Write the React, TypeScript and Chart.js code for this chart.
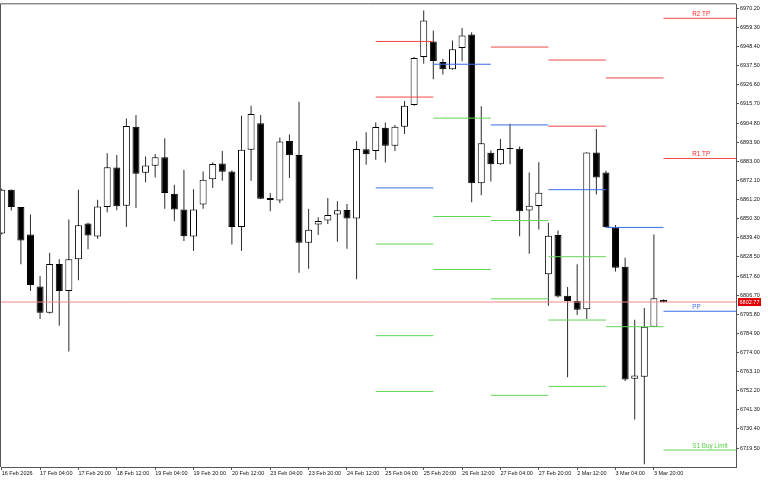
import React, { useEffect, useRef } from 'react';
import { Chart, registerables } from 'chart.js';

Chart.register(...registerables);

// ---- candle data (4H bars, index 0 = 16 Feb 12:00) ----
const opens = [
  6841.8, 6866.8, 6856.9, 6841.3, 6811.6, 6796.6, 6824.4, 6809.1, 6827.1, 6847.5,
  6840.1, 6856.9, 6879.4, 6857.7, 6902.7, 6876.4, 6880.4, 6885.3, 6864.5, 6855.5,
  6840.1, 6858.3, 6872.8, 6881.7, 6877.2, 6845.6, 6889.5, 6904.6, 6862.0, 6860.6,
  6894.6, 6886.6, 6836.5, 6847.0, 6849.2, 6852.6, 6855.2, 6850.4, 6889.8, 6888.9,
  6902.1, 6891.8, 6902.7, 6915.0, 6942.4, 6951.3, 6939.6, 6935.4, 6947.5, 6955.3,
  6870.5, 6887.8, 6881.3, 6890.0, 6890.2, 6854.9, 6857.5, 6818.6, 6840.9, 6806.3,
  6803.4, 6798.7, 6888.0, 6876.6, 6845.4, 6822.9, 6759.0, 6760.2, 6788.7, 6804.0,
];
const highs = [
  6867.5, 6866.9, 6857.0, 6852.6, 6817.6, 6830.8, 6827.1, 6849.8, 6866.8, 6847.9,
  6861.1, 6887.6, 6886.6, 6907.4, 6909.3, 6885.7, 6887.2, 6896.1, 6869.6, 6878.1,
  6867.1, 6877.2, 6882.4, 6888.9, 6877.7, 6908.9, 6914.6, 6909.3, 6864.9, 6896.6,
  6898.3, 6916.9, 6856.0, 6851.1, 6862.0, 6860.2, 6858.6, 6894.6, 6899.5, 6905.1,
  6905.1, 6903.7, 6917.3, 6942.4, 6968.9, 6957.5, 6941.4, 6951.9, 6958.9, 6956.6,
  6914.4, 6889.1, 6895.7, 6904.4, 6891.4, 6876.6, 6882.4, 6847.9, 6843.6, 6811.4,
  6824.3, 6888.1, 6901.4, 6877.6, 6846.6, 6828.0, 6792.7, 6799.3, 6841.3, 6804.2,
];
const lows = [
  6841.3, 6854.9, 6824.3, 6809.1, 6793.1, 6796.2, 6789.3, 6774.5, 6815.2, 6832.8,
  6838.8, 6853.9, 6855.1, 6845.6, 6856.4, 6871.1, 6873.8, 6856.0, 6848.8, 6837.5,
  6831.8, 6856.0, 6867.7, 6871.9, 6835.6, 6831.8, 6871.9, 6861.5, 6854.5, 6859.2,
  6873.4, 6819.5, 6821.8, 6840.9, 6847.3, 6837.1, 6833.1, 6815.8, 6881.0, 6883.8,
  6882.3, 6888.9, 6898.6, 6914.6, 6938.6, 6929.8, 6932.4, 6935.2, 6940.0, 6859.6,
  6863.6, 6871.5, 6881.0, 6881.3, 6840.3, 6830.3, 6844.1, 6800.6, 6805.3, 6759.9,
  6795.3, 6793.1, 6864.0, 6845.2, 6820.1, 6757.7, 6735.8, 6710.3, 6788.5, 6802.5,
];
const closes = [
  6866.8, 6856.9, 6837.9, 6812.5, 6796.6, 6824.4, 6809.1, 6827.1, 6846.5, 6840.7,
  6857.2, 6879.6, 6857.3, 6903.1, 6875.9, 6880.6, 6885.3, 6864.9, 6855.5, 6840.3,
  6855.5, 6872.5, 6881.5, 6877.0, 6845.6, 6889.5, 6909.9, 6861.7, 6860.9, 6894.2,
  6886.4, 6836.5, 6843.9, 6849.0, 6852.4, 6855.1, 6850.4, 6890.0, 6887.0, 6902.5,
  6891.9, 6902.7, 6914.6, 6941.8, 6963.2, 6940.1, 6935.4, 6946.9, 6954.7, 6870.5,
  6893.2, 6881.3, 6890.0, 6890.1, 6854.5, 6857.7, 6865.1, 6840.5, 6805.9, 6803.4,
  6798.3, 6888.0, 6873.8, 6845.4, 6822.3, 6758.6, 6760.9, 6788.7, 6804.9, 6802.77,
];

// ---- axis labels ----
const xTickLabels = [
  '16 Feb 2026', '17 Feb 04:00', '17 Feb 20:00', '18 Feb 12:00', '19 Feb 04:00',
  '19 Feb 20:00', '20 Feb 12:00', '23 Feb 04:00', '23 Feb 20:00', '24 Feb 12:00',
  '25 Feb 04:00', '25 Feb 20:00', '26 Feb 12:00', '27 Feb 04:00', '27 Feb 20:00',
  '2 Mar 12:00', '3 Mar 04:00', '3 Mar 20:00',
];
const barsPerLabel = 4;
const yTickValues = [
  6719.5, 6730.4, 6741.3, 6752.2, 6763.1, 6774.0, 6784.9, 6795.8, 6806.7, 6817.6,
  6828.5, 6839.4, 6850.3, 6861.2, 6872.1, 6883.0, 6893.9, 6904.8, 6915.7, 6926.6,
  6937.5, 6948.4, 6959.3, 6970.2,
];

// ---- daily pivot levels (segment from day's first bar to next day's first bar) ----
const levelStart = [39, 45, 51, 57, 63, 69];
const levelEnd = [45, 51, 57, 63, 69, 78];
const resistanceLevels = [
  [6951.3, 6919.6],
  [],
  [6948.1],
  [6940.7, 6903.0],
  [6930.5],
  [6964.5, 6884.6],
];
const pivotLevels = [6867.8, 6938.3, 6903.7, 6866.8, 6845.3, 6797.5];
const supportLevels = [
  [6835.8, 6783.6, 6751.8],
  [6907.6, 6851.5, 6821.3],
  [6849.2, 6804.6, 6749.6],
  [6828.6, 6792.5, 6754.7],
  [6788.7],
  [6718.4],
];
const levelLabelTexts = ['R2 TP', 'R1 TP', 'PP', 'S1 Buy Limit'];
const levelLabelPrices = [
  resistanceLevels[5][0],
  resistanceLevels[5][1],
  pivotLevels[5],
  supportLevels[5][0],
];
const levelLabelColors = ['#ff2020', '#ff2020', '#3d6fe8', '#5ccf4a'];

const RED = '#f04848';
const BLUE = '#3a6ee6';
const GREEN = '#60d654';
const FONT = "'Liberation Sans', Arial, sans-serif";

export default function App() {
  const ref = useRef<HTMLCanvasElement | null>(null);

  useEffect(() => {
    if (!ref.current) return;
    const n = closes.length;
    const lastClose = closes[n - 1];

    const wickData = closes.map((_, i) => ({ x: i, y: [lows[i], highs[i]] }));
    const bodyData = closes.map((c, i) => ({ x: i, y: [opens[i], c] }));
    const bodyFill = closes.map((c, i) => (c >= opens[i] ? '#ffffff' : '#000000'));

    const levelDatasets: any[] = [];
    const addLevel = (day: number, price: number, color: string) => {
      levelDatasets.push({
        type: 'line',
        data: [
          { x: levelStart[day], y: price },
          { x: levelEnd[day], y: price },
        ],
        borderColor: color,
        borderWidth: 1,
        pointRadius: 0,
        fill: false,
        order: 0,
      });
    };
    levelStart.forEach((_, d) => {
      resistanceLevels[d].forEach((p) => addLevel(d, p, RED));
      addLevel(d, pivotLevels[d], BLUE);
      supportLevels[d].forEach((p) => addLevel(d, p, GREEN));
    });

    const overlay = {
      id: 'overlay',
      afterDatasetsDraw(chart: any) {
        const { ctx, chartArea, scales } = chart;
        const xs = scales.x;
        const ys = scales.y;
        ctx.save();
        // current price line
        const py = ys.getPixelForValue(lastClose);
        ctx.strokeStyle = '#f08585';
        ctx.lineWidth = 1;
        ctx.beginPath();
        ctx.moveTo(chartArea.left, py);
        ctx.lineTo(chartArea.right, py);
        ctx.stroke();
        // level labels
        ctx.font = `6.3px ${FONT}`;
        ctx.textAlign = 'left';
        ctx.textBaseline = 'bottom';
        const lx = xs.getPixelForValue(levelStart[5] + 3);
        levelLabelTexts.forEach((t, k) => {
          ctx.fillStyle = levelLabelColors[k];
          ctx.fillText(t, lx, ys.getPixelForValue(levelLabelPrices[k]) - 1);
        });
        ctx.restore();
      },
      afterDraw(chart: any) {
        const { ctx, chartArea, scales } = chart;
        const ys = scales.y;
        ctx.save();
        // frame left & top
        ctx.strokeStyle = '#555';
        ctx.lineWidth = 1;
        ctx.beginPath();
        ctx.moveTo(chartArea.left - 0.5, chartArea.bottom);
        ctx.lineTo(chartArea.left - 0.5, chartArea.top - 0.5);
        ctx.lineTo(chartArea.right, chartArea.top - 0.5);
        ctx.stroke();
        // price box on axis
        const py = ys.getPixelForValue(lastClose);
        const bx = chartArea.right + 2;
        ctx.fillStyle = '#e00000';
        ctx.fillRect(bx, py - 4, 23, 8);
        ctx.fillStyle = '#ffffff';
        ctx.font = `5.5px ${FONT}`;
        ctx.textAlign = 'center';
        ctx.textBaseline = 'middle';
        ctx.fillText(lastClose.toFixed(2), bx + 11.5, py + 0.3);
        ctx.restore();
      },
    };

    const chart = new Chart(ref.current, {
      type: 'bar',
      data: {
        datasets: [
          ...levelDatasets,
          {
            type: 'bar',
            data: bodyData as any,
            backgroundColor: bodyFill,
            borderColor: '#000000',
            borderWidth: 1,
            borderSkipped: false,
            barThickness: 7,
            minBarLength: 1,
            grouped: false,
            inflateAmount: 0,
            order: 1,
          } as any,
          {
            type: 'bar',
            data: wickData as any,
            backgroundColor: '#2a2a2a',
            borderWidth: 0,
            barThickness: 1,
            grouped: false,
            inflateAmount: 0,
            order: 2,
          } as any,
        ],
      },
      options: {
        responsive: false,
        animation: false,
        devicePixelRatio: 1,
        events: [],
        layout: { padding: { left: 1, top: 2, right: 0, bottom: 0 } },
        plugins: { legend: { display: false }, tooltip: { enabled: false } },
        scales: {
          x: {
            type: 'linear',
            position: 'bottom',
            min: -0.073,
            max: 76.56,
            offset: false,
            grid: {
              display: true,
              drawOnChartArea: false,
              drawTicks: true,
              tickLength: 3,
              color: '#555',
              offset: false,
            },
            border: { display: true, color: '#555', width: 1 },
            ticks: {
              autoSkip: false,
              maxRotation: 0,
              minRotation: 0,
              align: 'start',
              padding: 0.5,
              color: '#111',
              font: { family: FONT, size: 5.5 },
              callback: (v: any) => xTickLabels[Math.round(Number(v) / barsPerLabel)] ?? '',
            },
            afterBuildTicks: (s: any) => {
              s.ticks = xTickLabels.map((_, k) => ({ value: k * barsPerLabel }));
            },
            afterFit: (s: any) => {
              s.height = 13;
            },
          } as any,
          y: {
            type: 'linear',
            position: 'right',
            min: 6708.73,
            max: 6972.47,
            grid: {
              display: true,
              drawOnChartArea: false,
              drawTicks: true,
              tickLength: 3,
              color: '#555',
            },
            border: { display: true, color: '#555', width: 1 },
            ticks: {
              autoSkip: false,
              padding: 1,
              color: '#111',
              font: { family: FONT, size: 5.5 },
              callback: (v: any) => Number(v).toFixed(2),
            },
            afterBuildTicks: (s: any) => {
              s.ticks = yTickValues.map((v) => ({ value: v }));
            },
            afterFit: (s: any) => {
              s.width = 32;
            },
          } as any,
        },
      },
      plugins: [overlay],
    });

    return () => chart.destroy();
  }, []);

  return (
    <div style={{ position: 'absolute', left: 0, top: 0, width: 768, height: 480, background: '#fff' }}>
      <canvas ref={ref} width={768} height={480} style={{ display: 'block', width: 768, height: 480 }} />
    </div>
  );
}
